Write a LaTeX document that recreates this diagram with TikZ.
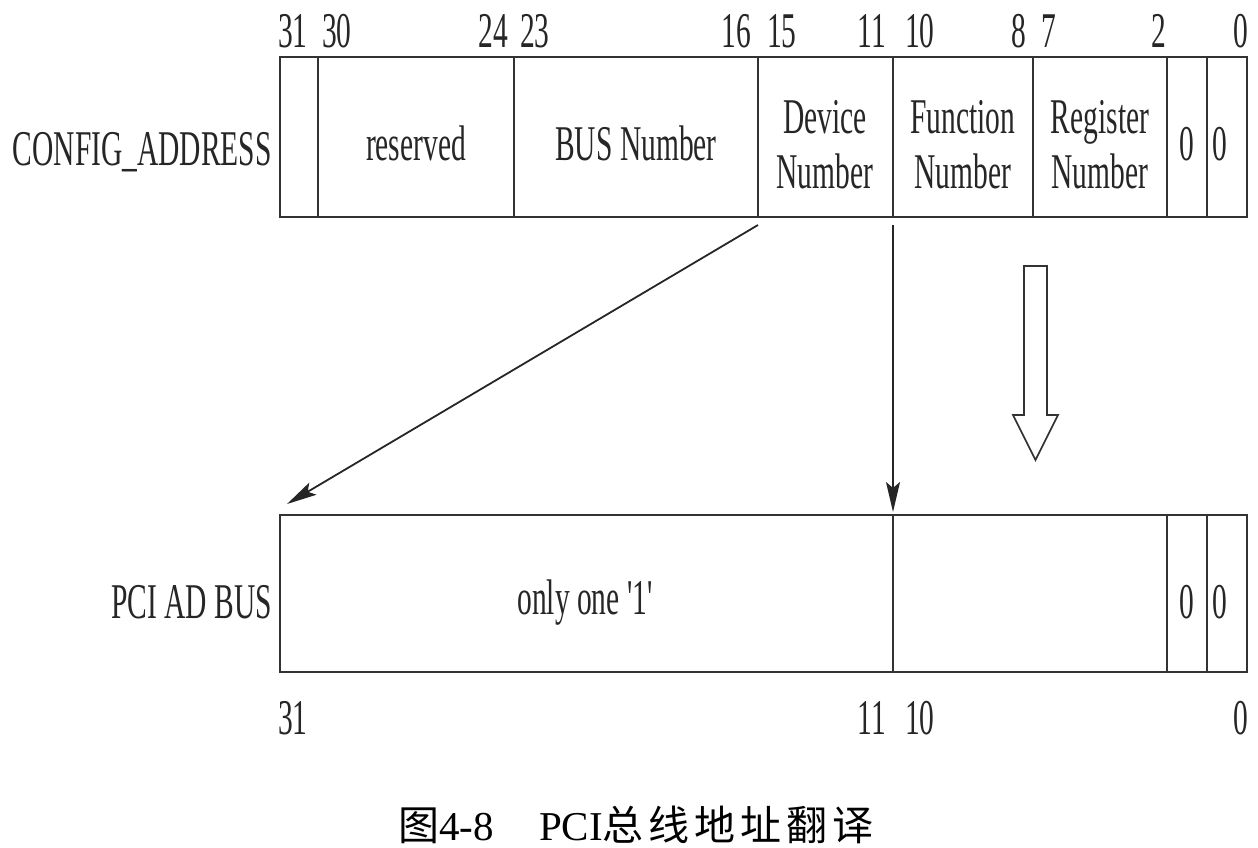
\documentclass[tikz,border=0pt]{standalone}
\usepackage{fontspec}
\setmainfont{Liberation Serif}
\newfontfamily\cjk{Noto Sans CJK SC}
\usepackage{graphicx}
\usetikzlibrary{arrows.meta}
\newcommand{\cz}[1]{\scalebox{0.59}[1]{#1}}
\begin{document}
\begin{tikzpicture}[x=1pt,y=-1pt,
  txt/.style={inner sep=0pt,font=\fontsize{50}{55}\selectfont,text=black!85},
  box/.style={draw=black!80,line width=2.5pt},
  divl/.style={draw=black!80,line width=1.6pt},
  conn/.style={draw=black!85,line width=1.8pt,-{Stealth[length=30pt,width=14pt,inset=6pt]}}]
\useasboundingbox (0,0) rectangle (1258,847);
% top register
\coordinate (tl) at (280,57);
\coordinate (br) at (1247,217);
\draw[box] (tl) rectangle (br);
\foreach \x in {318,514,758,893,1033,1167,1207}
  \draw[divl] (\x,57) -- (\x,217);
% top bit numbers
\node[txt,anchor=base west] (n31) at (278,47) {\cz{31}};
\node[txt,anchor=base west] (n30) at (322,47) {\cz{30}};
\node[txt,anchor=base east] (n24) at (508,47) {\cz{24}};
\node[txt,anchor=base west] (n23) at (520,47) {\cz{23}};
\node[txt,anchor=base east] (n16) at (751,47) {\cz{16}};
\node[txt,anchor=base west] (n15) at (767,47) {\cz{15}};
\node[txt,anchor=base east] (n11) at (886,47) {\cz{11}};
\node[txt,anchor=base west] (n10) at (905,47) {\cz{10}};
\node[txt,anchor=base east] (n8) at (1026,47) {\cz{8}};
\node[txt,anchor=base west] (n7) at (1041,47) {\cz{7}};
\node[txt,anchor=base east] (n2) at (1166,47) {\cz{2}};
\node[txt,anchor=base east] (n0) at (1248,47) {\cz{0}};
% top fields
\node[txt,anchor=base east] (cfg) at (272,165) {\cz{CONFIG\_ADDRESS}};
\node[txt,anchor=base] (res) at (416,160) {\cz{reserved}};
\node[txt,anchor=base] (bus) at (636,160) {\cz{BUS Number}};
\node[txt,align=center] (dev) at (825,145) {\cz{Device}\\\cz{Number}};
\node[txt,align=center] (fun) at (963,145) {\cz{Function}\\\cz{Number}};
\node[txt,align=center] (reg) at (1100,145) {\cz{Register}\\\cz{Number}};
\node[txt,anchor=base] (z1) at (1187,160) {\cz{0}};
\node[txt,anchor=base] (z2) at (1220,160) {\cz{0}};
% bottom register
\draw[box] (280,515) rectangle (1247,672);
\foreach \x in {893,1167,1207}
  \draw[divl] (\x,515) -- (\x,672);
\node[txt,anchor=base east] (pci) at (272,618) {\cz{PCI AD BUS}};
\node[txt,anchor=base] (one) at (585,614) {\cz{only one \textquotesingle 1\textquotesingle}};
\node[txt,anchor=base] (z3) at (1187,618) {\cz{0}};
\node[txt,anchor=base] (z4) at (1220,618) {\cz{0}};
\node[txt,anchor=base west] (b31) at (278,734) {\cz{31}};
\node[txt,anchor=base east] (b11) at (886,734) {\cz{11}};
\node[txt,anchor=base west] (b10) at (905,734) {\cz{10}};
\node[txt,anchor=base east] (b0) at (1248,734) {\cz{0}};
% connectors
\coordinate (s1) at (758,225);
\coordinate (e1) at (287,504);
\coordinate (s2) at (893,225);
\coordinate (e2) at (893,512);
\draw[conn] (s1) -- (e1);
\draw[conn] (s2) -- (e2);
% hollow arrow
\draw[draw=black!80,line width=1.6pt,fill=white,line join=miter]
  (1024,266) -- (1047,266) -- (1047,415) -- (1058,415) -- (1035.5,460)
  -- (1013,415) -- (1024,415) -- cycle;
% caption
\node[inner sep=0pt,font=\fontsize{41}{44}\selectfont,anchor=base] (cap) at (636,840)
  {{\cjk 图}4-8\hspace{1.1em}PCI{\cjk 总\hspace{0.12em}线\hspace{0.12em}地\hspace{0.12em}址\hspace{0.12em}翻\hspace{0.12em}译}};
\end{tikzpicture}
\end{document}
